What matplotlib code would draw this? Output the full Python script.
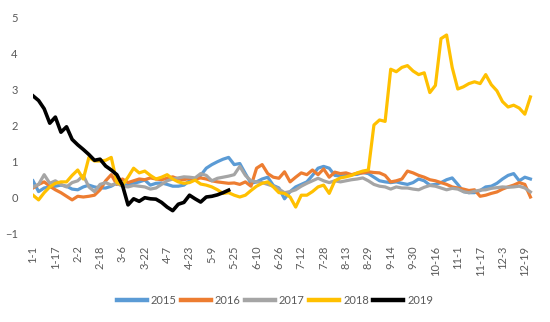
import numpy as np
import matplotlib
matplotlib.use("Agg")
import matplotlib.pyplot as plt

plt.rcParams['font.family'] = ['Lato', 'DejaVu Sans']

# Daily index of the year (0 = 1-1); series sampled every 4 days
step = 4
tick_labels = ["1-1", "1-17", "2-2", "2-18", "3-6", "3-22", "4-7", "4-23", "5-9",
               "5-25", "6-10", "6-26", "7-12", "7-28", "8-13", "8-29", "9-14",
               "9-30", "10-16", "11-1", "11-17", "12-3", "12-19"]

y2015 = [0.45, 0.15, 0.25, 0.28, 0.30, 0.33, 0.30, 0.22, 0.20, 0.28,
         0.33, 0.28, 0.25, 0.25, 0.30, 0.39, 0.35, 0.33, 0.38, 0.42,
         0.47, 0.33, 0.38, 0.39, 0.35, 0.30, 0.30, 0.33, 0.45, 0.50,
         0.60, 0.80, 0.90, 0.98, 1.05, 1.10, 0.90, 0.93, 0.65, 0.38,
         0.42, 0.50, 0.55, 0.32, 0.25, -0.05, 0.15, 0.28, 0.35, 0.42,
         0.60, 0.80, 0.85, 0.80, 0.60, 0.58, 0.60, 0.62, 0.63, 0.68,
         0.65, 0.55, 0.45, 0.42, 0.40, 0.42, 0.38, 0.35, 0.40, 0.50,
         0.45, 0.33, 0.35, 0.40, 0.48, 0.53, 0.35, 0.15, 0.12, 0.12,
         0.18, 0.28, 0.30, 0.38, 0.50, 0.60, 0.65, 0.45, 0.55, 0.50]

y2016 = [0.25, 0.35, 0.42, 0.30, 0.20, 0.12, 0.02, -0.08, 0.02, 0.00,
         0.02, 0.05, 0.20, 0.45, 0.62, 0.35, 0.50, 0.40, 0.45, 0.50,
         0.48, 0.53, 0.50, 0.48, 0.52, 0.56, 0.50, 0.48, 0.52, 0.50,
         0.53, 0.50, 0.45, 0.42, 0.40, 0.38, 0.39, 0.35, 0.42, 0.30,
         0.80, 0.90, 0.65, 0.55, 0.52, 0.70, 0.42, 0.55, 0.67, 0.62,
         0.75, 0.62, 0.78, 0.55, 0.69, 0.65, 0.67, 0.62, 0.66, 0.67,
         0.70, 0.68, 0.67, 0.60, 0.42, 0.45, 0.50, 0.72, 0.67, 0.60,
         0.55, 0.48, 0.45, 0.40, 0.35, 0.28, 0.25, 0.22, 0.18, 0.20,
         0.02, 0.05, 0.10, 0.14, 0.22, 0.28, 0.33, 0.40, 0.35, 0.00]

y2017 = [0.28, 0.35, 0.62, 0.38, 0.45, 0.35, 0.28, 0.40, 0.45, 0.60,
         0.28, 0.15, 0.35, 0.40, 0.33, 0.38, 0.30, 0.28, 0.32, 0.30,
         0.28, 0.22, 0.25, 0.35, 0.45, 0.50, 0.53, 0.56, 0.55, 0.53,
         0.65, 0.60, 0.45, 0.52, 0.55, 0.58, 0.62, 0.85, 0.60, 0.45,
         0.42, 0.40, 0.35, 0.30, 0.22, 0.12, 0.15, 0.20, 0.30, 0.38,
         0.45, 0.52, 0.45, 0.40, 0.45, 0.42, 0.45, 0.48, 0.50, 0.53,
         0.45, 0.35, 0.30, 0.28, 0.22, 0.28, 0.25, 0.25, 0.22, 0.20,
         0.27, 0.32, 0.30, 0.25, 0.20, 0.24, 0.22, 0.15, 0.12, 0.16,
         0.19, 0.20, 0.24, 0.26, 0.28, 0.27, 0.28, 0.30, 0.25, 0.14]

y2018 = [0.05, -0.08, 0.12, 0.28, 0.38, 0.42, 0.42, 0.60, 0.75, 0.50,
         1.10, 1.00, 1.00, 1.02, 1.10, 0.40, 0.33, 0.55, 0.80, 0.67,
         0.72, 0.60, 0.50, 0.55, 0.62, 0.50, 0.42, 0.38, 0.40, 0.47,
         0.36, 0.33, 0.28, 0.20, 0.10, 0.12, 0.05, 0.00, 0.05, 0.18,
         0.30, 0.38, 0.42, 0.28, 0.12, 0.10, 0.00, -0.28, 0.05, 0.05,
         0.15, 0.28, 0.33, 0.10, 0.45, 0.53, 0.56, 0.60, 0.67, 0.72,
         0.75, 2.00, 2.14, 2.10, 3.55, 3.48, 3.60, 3.65, 3.50, 3.40,
         3.45, 2.90, 3.10, 4.40, 4.50, 3.60, 3.00, 3.06, 3.15, 3.20,
         3.15, 3.40, 3.12, 2.95, 2.65, 2.50, 2.55, 2.47, 2.30, 2.78]

y2019 = [2.81, 2.68, 2.45, 2.05, 2.22, 1.80, 1.95, 1.60, 1.45, 1.32,
         1.18, 1.02, 1.05, 0.86, 0.75, 0.62, 0.33, -0.22, -0.05, -0.12,
         -0.02, -0.05, -0.06, -0.15, -0.28, -0.38, -0.20, -0.15, 0.05, -0.05,
         -0.14, 0.00, 0.02, 0.06, 0.12, 0.19]

series = [
    ("2015", y2015, "#5B9BD5", 2.3),
    ("2016", y2016, "#ED7D31", 2.3),
    ("2017", y2017, "#A5A5A5", 2.3),
    ("2018", y2018, "#FFC000", 2.3),
    ("2019", y2019, "#000000", 2.6),
]

fig = plt.figure(figsize=(5.5, 3.22), dpi=100)
ax = fig.add_axes([33 / 550, 89 / 322, 510 / 550, 216 / 322])

for name, vals, color, lw in series:
    x = np.arange(len(vals)) * step
    ax.plot(x, vals, color=color, lw=lw, label=name, solid_joinstyle="round")

ax.set_xlim(0, 365)
ax.set_ylim(-1, 5)
ax.set_yticks(range(-1, 6))
ax.set_xticks(np.arange(len(tick_labels)) * 16)
ax.set_xticklabels(tick_labels, rotation=90, va="top", ha="center")
ax.tick_params(axis="both", length=0, labelsize=8, colors="#595959")
ax.tick_params(axis="y", pad=11)
ax.tick_params(axis="x", pad=9)
for s in ax.spines.values():
    s.set_visible(False)

leg = fig.legend(loc="center", bbox_to_anchor=(275 / 550, 1 - 300 / 322), ncol=5,
                 frameon=False, fontsize=8, handlelength=2.7, handletextpad=0.35,
                 columnspacing=0.4)
for t in leg.get_texts():
    t.set_color("#595959")
for h in leg.get_lines():
    h.set_linewidth(3.2)

fig.savefig("out.png", dpi=100)
